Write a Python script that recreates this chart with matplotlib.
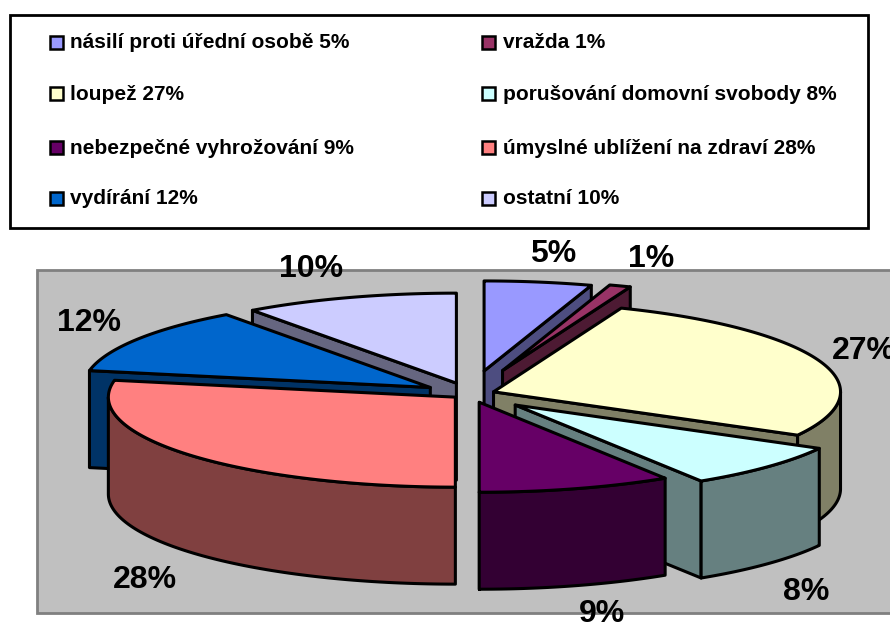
import numpy as np
import matplotlib
matplotlib.use("Agg")
import matplotlib.pyplot as plt
from matplotlib.patches import Polygon, Rectangle

plt.rcParams['font.family'] = ['Liberation Sans', 'DejaVu Sans']

# data
categories = ["násilí proti úřední osobě", "vražda", "loupež", "porušování domovní svobody",
              "nebezpečné vyhrožování", "úmyslné ublížení na zdraví", "vydírání", "ostatní"]
values = [5, 1, 27, 8, 9, 28, 12, 10]
colors = ["#9999FF", "#993366", "#FFFFCC", "#CCFFFF", "#660066", "#FF8080", "#0066CC", "#CCCCFF"]

# how far each slice is pulled out, in pixels along its middle angle
explode = [90, 96, 25, 62, 33, 19, 47, 44]

# layout, pixels of the 890x628 picture
cx, cy = 470, 394
rx, ry = 347, 90
depth = 97
draw_order = [7, 0, 1, 6, 2, 3, 4, 5]   # back to front
label_pos = [(553, 254), (651, 259), (864, 351), (806, 592), (602, 614), (145, 580), (89, 323), (311, 269)]
legend_rows = [43, 94, 148, 199]
legend_cols = [(50, 70), (482, 503)]


def darken(c):
    return tuple(0.5 * v for v in matplotlib.colors.to_rgb(c))


def rim(theta, ox, oy, dz=0.0):
    return np.column_stack([ox + rx * np.sin(theta), oy - ry * np.cos(theta) + dz])


fig = plt.figure(figsize=(8.9, 6.28), dpi=100)
ax = fig.add_axes([0, 0, 1, 1])
ax.set_xlim(0, 890)
ax.set_ylim(628, 0)
ax.axis("off")

# plot area
ax.add_patch(Rectangle((37, 270), 860, 343, facecolor="#C0C0C0", edgecolor="#808080", lw=2, zorder=0))

# legend box
ax.add_patch(Rectangle((10, 15), 858, 213, facecolor="white", edgecolor="black", lw=2, zorder=0))
for i, (cat, val, col) in enumerate(zip(categories, values, colors)):
    mx, tx = legend_cols[i % 2]
    y = legend_rows[i // 2]
    ax.add_patch(Rectangle((mx, y - 7), 13, 13, facecolor=col, edgecolor="black", lw=1.8, zorder=3))
    ax.text(tx, y, f"{cat} {val}%", fontsize=15, fontweight="bold", va="center", ha="left", color="black")

# slices
edges = np.cumsum([0] + values) / sum(values) * 2 * np.pi
z = 2
for i in draw_order:
    t0, t1 = edges[i], edges[i + 1]
    mid = (t0 + t1) / 2
    ox = cx + explode[i] * np.sin(mid)
    oy = cy - explode[i] * (ry / rx) * np.cos(mid)
    side = darken(colors[i])
    style = dict(edgecolor="black", lw=2.2, joinstyle="round", zorder=z)

    # cut walls that face the viewer
    for t, show in ((t0, np.sin(t0) < 0), (t1, np.sin(t1) > 0)):
        if show:
            p = rim(np.array([t]), ox, oy)[0]
            wall = [(ox, oy), p, (p[0], p[1] + depth), (ox, oy + depth)]
            ax.add_patch(Polygon(wall, closed=True, facecolor=side, **style))

    # outer wall, only the front half of the rim shows
    a = max(t0, np.pi / 2)
    b = min(t1, 3 * np.pi / 2)
    if b > a:
        th = np.linspace(a, b, 80)
        outer = np.vstack([rim(th, ox, oy), rim(th[::-1], ox, oy, depth)])
        ax.add_patch(Polygon(outer, closed=True, facecolor=side, **style))

    # top face
    th = np.linspace(t0, t1, 120)
    top = np.vstack([[(ox, oy)], rim(th, ox, oy)])
    ax.add_patch(Polygon(top, closed=True, facecolor=colors[i], **style))
    z += 1

# value labels
for val, (x, y) in zip(values, label_pos):
    ax.text(x, y, f"{val}%", fontsize=23, fontweight="bold", ha="center", va="center",
            color="black", zorder=30, clip_on=True)

fig.savefig("out.png", dpi=100)
